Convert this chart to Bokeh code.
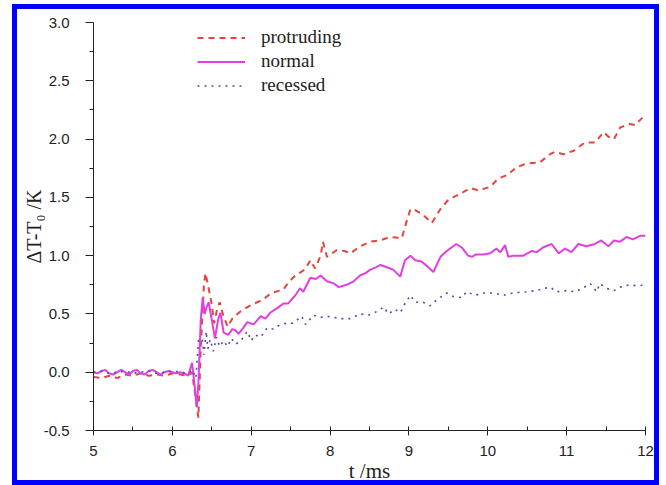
from bokeh.plotting import figure
from bokeh.models import FixedTicker, NumeralTickFormatter, Legend, LegendItem, Range1d
from bokeh.embed import file_html
from bokeh.resources import INLINE

# ---------------- data ----------------
t_protruding = [5.0, 5.1, 5.2, 5.3, 5.4, 5.5, 5.6, 5.7, 5.8, 5.9, 6.0, 6.1, 6.2, 6.25, 6.28, 6.33,
                6.36, 6.4, 6.42, 6.46, 6.5, 6.53, 6.57, 6.6, 6.64, 6.7, 6.77, 6.88, 7.01, 7.14, 7.26,
                7.41, 7.47, 7.56, 7.68, 7.75, 7.81, 7.88, 7.91, 7.96, 8.09, 8.18, 8.26, 8.38, 8.51,
                8.63, 8.76, 8.91, 8.96, 9.02, 9.08, 9.18, 9.29, 9.4, 9.5, 9.65, 9.78, 9.88, 10.03,
                10.13, 10.24, 10.37, 10.49, 10.66, 10.79, 10.85, 10.96, 11.09, 11.23, 11.36, 11.47,
                11.53, 11.6, 11.68, 11.8, 11.87, 11.97, 12.0]
y_protruding = [-0.04, -0.05, -0.03, -0.05, -0.02, -0.03, -0.01, -0.03, -0.02, -0.03, -0.01, -0.02,
                -0.03, 0.0, -0.15, -0.39, 0.2, 0.75, 0.85, 0.72, 0.58, 0.42, 0.55, 0.6, 0.5, 0.39,
                0.47, 0.53, 0.58, 0.62, 0.68, 0.71, 0.77, 0.83, 0.88, 0.96, 0.89, 1.0, 1.12, 0.99,
                1.05, 1.04, 1.02, 1.08, 1.12, 1.13, 1.16, 1.15, 1.27, 1.4, 1.39, 1.35, 1.28, 1.4,
                1.48, 1.53, 1.58, 1.56, 1.59, 1.66, 1.69, 1.76, 1.79, 1.8, 1.87, 1.89, 1.87, 1.9,
                1.97, 1.97, 2.06, 2.02, 2.0, 2.1, 2.13, 2.12, 2.19, 2.2]

t_normal = [5.0, 5.05, 5.1, 5.15, 5.2, 5.25, 5.3, 5.35, 5.4, 5.45, 5.5, 5.55, 5.6, 5.65, 5.7, 5.75,
            5.8, 5.85, 5.9, 5.95, 6.0, 6.05, 6.1, 6.15, 6.2, 6.25, 6.28, 6.31, 6.33, 6.36, 6.385,
            6.41, 6.43, 6.46, 6.5, 6.54, 6.58, 6.61, 6.65, 6.71, 6.76, 6.8, 6.84, 6.9, 6.95, 7.03,
            7.12, 7.18, 7.24, 7.33, 7.41, 7.47, 7.56, 7.62, 7.66, 7.75, 7.82, 7.88, 7.96, 8.05,
            8.11, 8.21, 8.3, 8.38, 8.45, 8.51, 8.58, 8.64, 8.72, 8.8, 8.89, 8.95, 9.02, 9.08, 9.16,
            9.23, 9.31, 9.4, 9.48, 9.6, 9.67, 9.75, 9.8, 9.85, 9.95, 10.03, 10.11, 10.16, 10.22,
            10.26, 10.33, 10.45, 10.56, 10.62, 10.7, 10.81, 10.9, 10.98, 11.06, 11.15, 11.25,
            11.36, 11.44, 11.53, 11.6, 11.68, 11.76, 11.84, 11.93, 12.0]
y_normal = [0.0, -0.01, 0.01, 0.02, -0.01, -0.02, 0.0, 0.02, 0.0, -0.02, 0.01, 0.02, -0.01, -0.02,
            0.01, 0.02, 0.0, -0.02, 0.0, 0.01, 0.0, -0.01, 0.0, -0.01, -0.03, 0.08, -0.1, -0.3,
            -0.1, 0.45, 0.64, 0.5, 0.55, 0.6, 0.45, 0.29, 0.45, 0.51, 0.34, 0.32, 0.37, 0.36, 0.33,
            0.38, 0.43, 0.41, 0.48, 0.46, 0.51, 0.55, 0.59, 0.59, 0.66, 0.72, 0.69, 0.81, 0.8,
            0.83, 0.78, 0.76, 0.73, 0.75, 0.78, 0.83, 0.85, 0.88, 0.9, 0.92, 0.9, 0.88, 0.82, 0.96,
            1.0, 0.96, 0.95, 0.91, 0.86, 0.99, 1.04, 1.1, 1.07, 1.0, 0.99, 1.01, 1.01, 1.02, 1.06,
            1.03, 1.09, 0.99, 1.0, 1.0, 1.04, 1.03, 1.07, 1.1, 1.02, 1.06, 1.03, 1.1, 1.08, 1.1,
            1.13, 1.08, 1.13, 1.12, 1.16, 1.14, 1.17, 1.17]

t_recessed = [5.0, 5.1, 5.2, 5.3, 5.4, 5.5, 5.6, 5.7, 5.8, 5.9, 6.0, 6.1, 6.2, 6.25, 6.3, 6.33,
              6.38, 6.4, 6.43, 6.45, 6.48, 6.52, 6.56, 6.6, 6.65, 6.7, 6.75, 6.8, 6.87, 6.95, 7.0,
              7.05, 7.12, 7.2, 7.28, 7.37, 7.45, 7.53, 7.64, 7.69, 7.79, 7.88, 7.96, 8.05, 8.13,
              8.26, 8.38, 8.49, 8.59, 8.68, 8.74, 8.82, 8.89, 8.95, 9.02, 9.08, 9.18, 9.27, 9.35,
              9.48, 9.56, 9.67, 9.73, 9.84, 9.94, 10.07, 10.2, 10.32, 10.49, 10.61, 10.79, 10.87,
              11.0, 11.11, 11.2, 11.3, 11.38, 11.42, 11.5, 11.6, 11.68, 11.8, 11.9, 12.0]
y_recessed = [0.0, 0.01, -0.01, 0.0, 0.01, -0.01, 0.0, 0.01, -0.01, 0.0, 0.01, 0.0, -0.01, 0.02,
              -0.05, 0.27, 0.29, 0.15, 0.35, 0.2, 0.28, 0.18, 0.3, 0.22, 0.27, 0.22, 0.29, 0.24,
              0.27, 0.35, 0.27, 0.32, 0.3, 0.38, 0.37, 0.41, 0.42, 0.42, 0.48, 0.41, 0.49, 0.47,
              0.48, 0.47, 0.46, 0.46, 0.5, 0.49, 0.52, 0.56, 0.5, 0.54, 0.51, 0.59, 0.66, 0.6, 0.6,
              0.57, 0.62, 0.68, 0.65, 0.64, 0.69, 0.66, 0.68, 0.68, 0.66, 0.68, 0.69, 0.7, 0.73,
              0.69, 0.7, 0.69, 0.72, 0.76, 0.69, 0.76, 0.72, 0.7, 0.73, 0.75, 0.74, 0.75]

x_ticks = [5, 6, 7, 8, 9, 10, 11, 12]
x_minor = [5.5, 6.5, 7.5, 8.5, 9.5, 10.5, 11.5]
y_ticks = [-0.5, 0.0, 0.5, 1.0, 1.5, 2.0, 2.5, 3.0]
y_minor = [-0.25, 0.25, 0.75, 1.25, 1.75, 2.25, 2.75]

# ---------------- figure ----------------
p = figure(width=666, height=485, output_backend="svg", toolbar_location=None,
           x_range=Range1d(5, 12), y_range=Range1d(-0.5, 3.0),
           min_border_left=93, min_border_right=21, min_border_top=22, min_border_bottom=54)
# blue picture frame painted as a CSS background behind a transparent canvas border
blue = "linear-gradient(#0000ff, #0000ff)"
p.styles = {
    "background": (f"{blue} 12px 4px / 647px 5px no-repeat, "
                   f"{blue} 12px 480px / 647px 5px no-repeat, "
                   f"{blue} 12px 4px / 5px 481px no-repeat, "
                   f"{blue} 654px 4px / 5px 481px no-repeat, white"),
}
p.border_fill_alpha = 0
p.outline_line_color = None
p.grid.visible = False
p.background_fill_color = "white"

r_p = p.line(t_protruding, y_protruding, line_color="#e2463c", line_width=2, line_dash="6 5")
r_n = p.line(t_normal, y_normal, line_color="#e040e0", line_width=2)
r_r = p.line(t_recessed, y_recessed, line_color="#4c4cb4", line_width=1.6, line_dash="2 5")

legend = Legend(items=[LegendItem(label="protruding", renderers=[r_p]),
                       LegendItem(label="normal", renderers=[r_n]),
                       LegendItem(label="recessed", renderers=[r_r])],
                location=(104, 334), border_line_color=None, background_fill_alpha=0,
                padding=0, spacing=2, glyph_width=48, glyph_height=21, label_standoff=16,
                label_text_font="Liberation Serif", label_text_font_size="19px",
                label_text_color="#222222", margin=0)
p.add_layout(legend)

for ax in (p.xaxis[0], p.yaxis[0]):
    ax.axis_line_color = "#222222"
    ax.major_tick_line_color = "#222222"
    ax.minor_tick_line_color = "#222222"
    ax.major_label_text_font = "Liberation Sans"
    ax.major_label_text_font_size = "15px"
    ax.major_label_text_color = "#222222"
    ax.axis_label_text_font = "Liberation Serif"
    ax.axis_label_text_font_style = "normal"
    ax.axis_label_text_color = "#222222"

p.xaxis.ticker = FixedTicker(ticks=x_ticks, minor_ticks=x_minor)
p.yaxis.ticker = FixedTicker(ticks=y_ticks, minor_ticks=y_minor)
p.yaxis.formatter = NumeralTickFormatter(format="0.0")

p.xaxis.axis_label = "t /ms"
p.yaxis.axis_label = "ΔT-T₀ /K"
p.xaxis.axis_label_text_font_size = "21px"
p.yaxis.axis_label_text_font_size = "20px"

p.xaxis.major_tick_in = 4
p.xaxis.major_tick_out = 5
p.xaxis.minor_tick_in = 4
p.xaxis.minor_tick_out = 0
p.xaxis.major_label_standoff = 10
p.xaxis.axis_label_standoff = 0

p.yaxis.major_tick_in = 0
p.yaxis.major_tick_out = 8
p.yaxis.minor_tick_in = 0
p.yaxis.minor_tick_out = 4
p.yaxis.major_label_standoff = 16
p.yaxis.axis_label_standoff = -4

open("out.html", "w").write(file_html(p, INLINE))
